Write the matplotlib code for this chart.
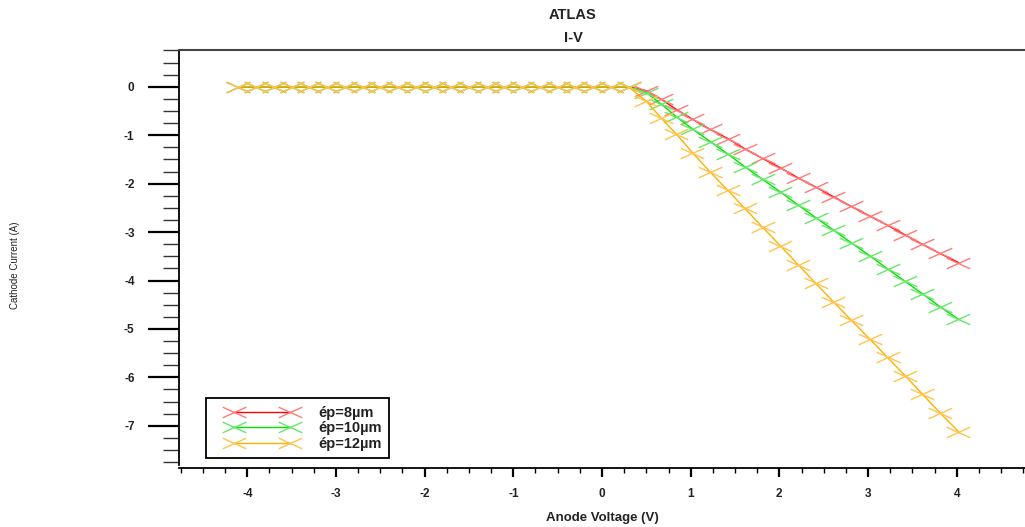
import numpy as np
import matplotlib.pyplot as plt
from matplotlib.path import Path
from matplotlib.ticker import MultipleLocator
from matplotlib.legend_handler import HandlerLine2D

plt.rcParams['font.family'] = ['Liberation Sans', 'DejaVu Sans']
plt.rcParams['font.weight'] = 'bold'
plt.rcParams['axes.labelweight'] = 'bold'
plt.rcParams['text.color'] = '#222222'
plt.rcParams['axes.labelcolor'] = '#222222'
plt.rcParams['xtick.labelcolor'] = '#222222'
plt.rcParams['ytick.labelcolor'] = '#222222'
plt.rcParams['axes.unicode_minus'] = False

# anode voltage sweep (V), shared by the three thicknesses
voltage = [-4.1, -3.9, -3.7, -3.5, -3.3, -3.1, -2.9, -2.7, -2.5, -2.3, -2.1, -1.9,
           -1.7, -1.5, -1.3, -1.1, -0.9, -0.7, -0.5, -0.3, -0.1, 0.1, 0.3,
           0.5, 0.67, 0.84, 1.02, 1.22, 1.42, 1.61, 1.81, 2.01, 2.21, 2.41,
           2.61, 2.81, 3.02, 3.22, 3.42, 3.61, 3.81, 4.02]

flat = [0.0] * 23

# cathode current (A)
i_8um = flat + [-0.08, -0.26, -0.47, -0.67, -0.88, -1.07, -1.28, -1.48, -1.67, -1.88,
                -2.07, -2.27, -2.47, -2.67, -2.86, -3.06, -3.25, -3.44, -3.63]
i_10um = flat + [-0.12, -0.36, -0.62, -0.87, -1.13, -1.39, -1.65, -1.91, -2.17, -2.44,
                 -2.70, -2.96, -3.22, -3.49, -3.76, -4.02, -4.27, -4.54, -4.80]
i_12um = flat + [-0.30, -0.65, -0.98, -1.36, -1.76, -2.14, -2.51, -2.90, -3.28, -3.67,
                 -4.06, -4.44, -4.82, -5.21, -5.59, -5.97, -6.34, -6.73, -7.12]

labels = ['ép=8µm', 'ép=10µm', 'ép=12µm']
line_colors = ['#ff0000', '#00e000', '#ffb000']
marker_colors = ['#ff7a7a', '#66e866', '#ffc44d']

# flattened cross marker
flat_x = Path([(-1, -0.45), (1, 0.45), (-1, 0.45), (1, -0.45)],
              [Path.MOVETO, Path.LINETO, Path.MOVETO, Path.LINETO])

fig = plt.figure(figsize=(10.25, 5.27), dpi=100)
ax = fig.add_axes([179 / 1025, 1 - 465 / 527, 1 - 179 / 1025, (465 - 50) / 527])

for cur, lab, lc, mc in zip([i_8um, i_10um, i_12um], labels, line_colors, marker_colors):
    ax.plot(voltage, cur, color=lc, lw=1.0, marker=flat_x, markersize=17,
            markeredgecolor=mc, markeredgewidth=1.0, label=lab)

ax.set_xlim(-4.77, 4.77)
ax.set_ylim(-7.81, 0.76)

ax.xaxis.set_major_locator(MultipleLocator(1))
ax.xaxis.set_minor_locator(MultipleLocator(0.25))
ax.yaxis.set_major_locator(MultipleLocator(1))
ax.yaxis.set_minor_locator(MultipleLocator(0.25))

ax.tick_params(axis='x', which='major', direction='out', length=6.5, width=1.6,
               pad=8, labelsize=8.5)
ax.tick_params(axis='x', which='minor', direction='out', length=3.5, width=1.0)
ax.tick_params(axis='y', which='major', direction='out', length=22, width=1.6,
               pad=10, labelsize=8.5)
ax.tick_params(axis='y', which='minor', direction='out', length=11.5, width=1.0,
               color='#333333')

ax.spines['right'].set_visible(False)
ax.spines['top'].set_color('#444444')
ax.spines['top'].set_linewidth(1.5)
ax.spines['left'].set_linewidth(1.3)
ax.spines['bottom'].set_linewidth(1.3)
ax.spines['bottom'].set_position(('outward', 2))

ax.set_xlabel('Anode Voltage (V)', fontsize=9.5, labelpad=9)
fig.text(15 / 1025, 1 - 265 / 527, 'Cathode Current (A)', rotation=90,
         fontsize=7, fontweight='normal', ha='center', va='center')

fig.text(573 / 1025, 1 - 15 / 527, 'ATLAS', fontsize=10.5, ha='center', va='center')
fig.text(573 / 1025, 1 - 38 / 527, 'I-V', fontsize=10.5, ha='center', va='center')

leg = ax.legend(loc='lower left', bbox_to_anchor=(0.032, 0.017), borderaxespad=0,
                numpoints=2, handlelength=6.67, handletextpad=0.5, labelspacing=0.1,
                fontsize=10.5, fancybox=False, framealpha=1, borderpad=0.5,
                handler_map={plt.Line2D: HandlerLine2D(marker_pad=1.42)})
leg.get_frame().set_edgecolor('black')
leg.get_frame().set_linewidth(1.3)

fig.savefig('out.png', dpi=100)
